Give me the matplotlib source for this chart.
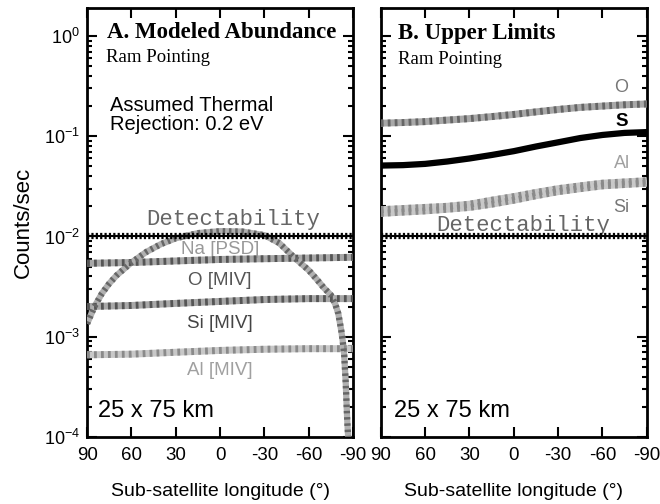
import matplotlib
matplotlib.use("Agg")
import matplotlib.pyplot as plt
from matplotlib.ticker import LogLocator, NullFormatter

plt.rcParams['font.family'] = ['Liberation Sans', 'DejaVu Sans']
plt.rcParams['axes.unicode_minus'] = False

# --- panel A: modeled abundance ---
lon_na = [90, 85, 80, 75, 70, 60, 50, 40, 30, 15, 0, -15, -30, -40, -50,
          -60, -65, -70, -75, -78, -80, -82, -83, -84, -85, -86, -87]
na_psd = [1.35e-3, 2.0e-3, 2.7e-3, 3.4e-3, 4.1e-3, 5.5e-3, 7.0e-3, 8.4e-3,
          9.6e-3, 1.08e-2, 1.13e-2, 1.12e-2, 1.03e-2, 8.6e-3, 6.2e-3,
          4.6e-3, 3.8e-3, 3.1e-3, 2.6e-3, 2.1e-3, 1.7e-3, 1.15e-3, 9e-4,
          6.5e-4, 3.5e-4, 1.5e-4, 8e-5]
lon = [90, 60, 30, 0, -30, -60, -90]
o_miv = [5.4e-3, 5.5e-3, 5.7e-3, 5.9e-3, 6.0e-3, 6.1e-3, 6.2e-3]
si_miv = [2.0e-3, 2.05e-3, 2.15e-3, 2.25e-3, 2.35e-3, 2.4e-3, 2.4e-3]
al_miv = [6.6e-4, 6.7e-4, 7.0e-4, 7.3e-4, 7.5e-4, 7.6e-4, 7.6e-4]

# --- panel B: upper limits ---
lon_b = [90, 75, 60, 45, 30, 15, 0, -15, -30, -45, -60, -75, -90]
o_up = [0.135, 0.137, 0.14, 0.145, 0.15, 0.157, 0.165, 0.175, 0.185,
        0.194, 0.200, 0.206, 0.21]
s_up = [0.051, 0.0515, 0.053, 0.056, 0.060, 0.065, 0.071, 0.079, 0.087,
        0.096, 0.103, 0.108, 0.110]
al_up = [0.0185, 0.019, 0.0195, 0.020, 0.021, 0.023, 0.025, 0.0275, 0.030,
         0.032, 0.034, 0.035, 0.036]
si_up = [0.0170, 0.0175, 0.018, 0.0187, 0.0195, 0.021, 0.023, 0.0255, 0.028,
         0.030, 0.032, 0.033, 0.034]

detect = 1e-2


def hatched(ax, x, y, base, dark, lw=5):
    ax.plot(x, y, color=base, lw=lw, solid_capstyle='butt', zorder=3)
    ax.plot(x, y, color=dark, lw=lw, dashes=(0.4, 0.6), zorder=3.1)


def detect_line(ax):
    ax.plot([90, -90], [detect, detect], color='black', lw=1.5, zorder=4)
    ax.plot([90, -90], [detect, detect], color='black', lw=4.5,
            dashes=(0.35, 0.35), zorder=4)


def style(ax):
    ax.set_yscale('log')
    ax.set_xlim(90, -90)
    ax.set_ylim(1e-4, 1.9)
    ax.set_xticks([90, 60, 30, 0, -30, -60, -90])
    ax.yaxis.set_major_locator(LogLocator(base=10, numticks=10))
    ax.yaxis.set_minor_locator(LogLocator(base=10, subs=range(2, 10), numticks=20))
    ax.yaxis.set_minor_formatter(NullFormatter())
    ax.tick_params(which='both', direction='in', top=True, right=True, width=1.5)
    ax.tick_params(which='major', length=7)
    ax.tick_params(which='minor', length=3.5)
    ax.tick_params(axis='x', pad=7, labelsize=13.5)
    ax.tick_params(axis='y', labelsize=13, pad=5)
    for s in ax.spines.values():
        s.set_linewidth(2)
    ax.set_xlabel('Sub-satellite longitude (°)', fontsize=14, labelpad=14)


fig = plt.figure(figsize=(6.6, 5.04), dpi=100)
ax1 = fig.add_axes([0.132, 0.133, 0.403, 0.851])
ax2 = fig.add_axes([0.577, 0.133, 0.403, 0.851])

# panel A
style(ax1)
detect_line(ax1)
hatched(ax1, lon, al_miv, '#c8c8c8', '#8a8a8a')
hatched(ax1, lon, si_miv, '#a8a8a8', '#555555')
hatched(ax1, lon, o_miv, '#a8a8a8', '#555555')
hatched(ax1, lon_na, na_psd, '#b0b0b0', '#666666', lw=4.5)
ax1.set_ylabel('Counts/sec', fontsize=16, labelpad=7)

ax1.text(0.075, 0.968, 'A. Modeled Abundance', transform=ax1.transAxes,
         family='Liberation Serif', fontweight='bold', fontsize=16.5, va='top')
ax1.text(0.07, 0.905, 'Ram Pointing', transform=ax1.transAxes,
         family='Liberation Serif', fontsize=13.5, va='top')
ax1.text(0.085, 0.795, 'Assumed Thermal\nRejection: 0.2 eV', transform=ax1.transAxes,
         fontsize=14.5, va='top', linespacing=1.0)
ax1.text(0.55, 0.506, 'Detectability', transform=ax1.transAxes, ha='center',
         va='center', family='Liberation Mono', fontsize=16, color='#666666')
ax1.text(0.5, 0.436, 'Na [PSD]', transform=ax1.transAxes, ha='center',
         va='center', fontsize=13.5, color='#999999')
ax1.text(0.5, 0.365, 'O [MIV]', transform=ax1.transAxes, ha='center',
         va='center', fontsize=13.5, color='#555555')
ax1.text(0.5, 0.265, 'Si [MIV]', transform=ax1.transAxes, ha='center',
         va='center', fontsize=13.5, color='#444444')
ax1.text(0.5, 0.155, 'Al [MIV]', transform=ax1.transAxes, ha='center',
         va='center', fontsize=13.5, color='#a0a0a0')
ax1.text(0.04, 0.06, '25 x 75 km', transform=ax1.transAxes, fontsize=17,
         va='center')

# panel B
style(ax2)
ax2.set_yticklabels([])
detect_line(ax2)
hatched(ax2, lon_b, si_up, '#c8c8c8', '#8a8a8a')
hatched(ax2, lon_b, al_up, '#c8c8c8', '#8a8a8a')
hatched(ax2, lon_b, o_up, '#a8a8a8', '#666666')
ax2.plot(lon_b, s_up, color='black', lw=4.5, zorder=3.5)

ax2.text(0.065, 0.965, 'B. Upper Limits', transform=ax2.transAxes,
         family='Liberation Serif', fontweight='bold', fontsize=16.5, va='top')
ax2.text(0.065, 0.90, 'Ram Pointing', transform=ax2.transAxes,
         family='Liberation Serif', fontsize=13.5, va='top')
ax2.text(0.537, 0.492, 'Detectability', transform=ax2.transAxes, ha='center',
         va='center', family='Liberation Mono', fontsize=16, color='#666666')
ax2.text(0.905, 0.815, 'O', transform=ax2.transAxes, ha='center',
         va='center', fontsize=13, color='#777777')
ax2.text(0.905, 0.735, 'S', transform=ax2.transAxes, ha='center',
         va='center', fontsize=13.5, fontweight='bold', color='black')
ax2.text(0.905, 0.637, 'Al', transform=ax2.transAxes, ha='center',
         va='center', fontsize=13, color='#a0a0a0')
ax2.text(0.905, 0.535, 'Si', transform=ax2.transAxes, ha='center',
         va='center', fontsize=13, color='#777777')
ax2.text(0.05, 0.06, '25 x 75 km', transform=ax2.transAxes, fontsize=17,
         va='center')

fig.savefig('out.png', dpi=100)
